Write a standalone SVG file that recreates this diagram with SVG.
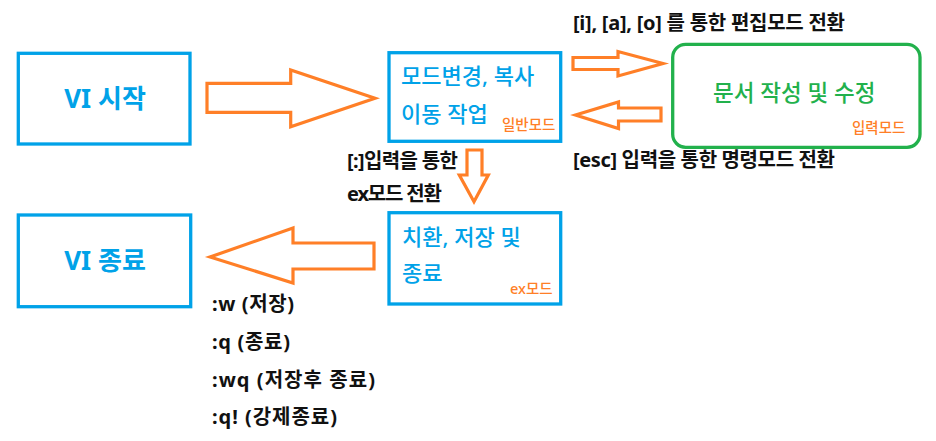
<svg xmlns="http://www.w3.org/2000/svg" width="936" height="441" viewBox="0 0 936 441">
<style>
.box{fill:none;stroke:#00a2e8;stroke-width:3.3}
.gbox{fill:none;stroke:#22b14c;stroke-width:3.3}
.arr{fill:#fff;stroke:#ff7f27;stroke-width:3.2;stroke-linejoin:miter}
text{font-family:"Noto Sans","Noto Sans CJK KR",sans-serif}
.big{font-size:26px;font-weight:bold;fill:#00a2e8}
.btx{font-size:22px;font-weight:500;fill:#00a2e8}
.gtx{font-size:22.5px;font-weight:500;fill:#22b14c}
.otx{font-size:14.5px;font-weight:500;fill:#ff7f27}
.lbl{font-size:20px;font-weight:bold;fill:#111}
</style>
<rect width="936" height="441" fill="#fff"/>
<g id="connectors">
<polygon class="arr" points="207,83.3 290.7,83.3 290.7,70 375,98.3 290.7,126.7 290.7,112.3 207,112.3"/>
<polygon class="arr" points="573,57.5 618,57.5 618,51.5 663,63.5 618,76 618,69.5 573,69.5"/>
<polygon class="arr" points="661,108 618.5,108 618.5,102 575.5,115 618.5,128.5 618.5,121 661,121"/>
<polygon class="arr" points="467,150 482,150 482,175 488.3,175 474,201.7 459.3,175 467,175"/>
<polygon class="arr" points="374,243 293,243 293,228 210,257 293,283 293,269 374,269"/>
</g>
<g id="vi-start">
<rect class="box" x="18.3" y="53.3" width="171.7" height="90.7"/>
<text class="big" x="105" y="108" text-anchor="middle">VI 시작</text>
</g>
<g id="normal-mode">
<rect class="box" x="389" y="52.7" width="171.7" height="88.6"/>
<text class="btx" x="401" y="84">모드변경, 복사</text>
<text class="btx" x="401" y="122">이동 작업</text>
<text class="otx" x="502" y="130">일반모드</text>
</g>
<g id="insert-mode">
<rect class="gbox" x="672.7" y="44.3" width="247.3" height="103" rx="13"/>
<text class="gtx" x="713" y="101">문서 작성 및 수정</text>
<text class="otx" x="852" y="133">입력모드</text>
</g>
<g id="ex-mode">
<rect class="box" x="389" y="212.7" width="171.7" height="91.3"/>
<text class="btx" x="402" y="245">치환, 저장 및</text>
<text class="btx" x="402" y="281">종료</text>
<text class="otx" x="510" y="294">ex모드</text>
</g>
<g id="vi-end">
<rect class="box" x="18.3" y="215" width="172.4" height="91.7"/>
<text class="big" x="105" y="270" text-anchor="middle">VI 종료</text>
</g>
<g id="labels">
<text class="lbl" x="573" y="30" textLength="272" lengthAdjust="spacing">[i], [a], [o] 를 통한 편집모드 전환</text>
<text class="lbl" x="573" y="167" textLength="262" lengthAdjust="spacing">[esc] 입력을 통한 명령모드 전환</text>
<text class="lbl" x="347" y="168" textLength="111" lengthAdjust="spacing">[:]입력을 통한</text>
<text class="lbl" x="347" y="201" textLength="95" lengthAdjust="spacing">ex모드 전환</text>
<text class="lbl" x="212" y="311" textLength="82" lengthAdjust="spacing">:w (저장)</text>
<text class="lbl" x="212" y="349" textLength="78" lengthAdjust="spacing">:q (종료)</text>
<text class="lbl" x="212" y="387" textLength="163" lengthAdjust="spacing">:wq (저장후 종료)</text>
<text class="lbl" x="212" y="424" textLength="125" lengthAdjust="spacing">:q! (강제종료)</text>
</g>
</svg>
